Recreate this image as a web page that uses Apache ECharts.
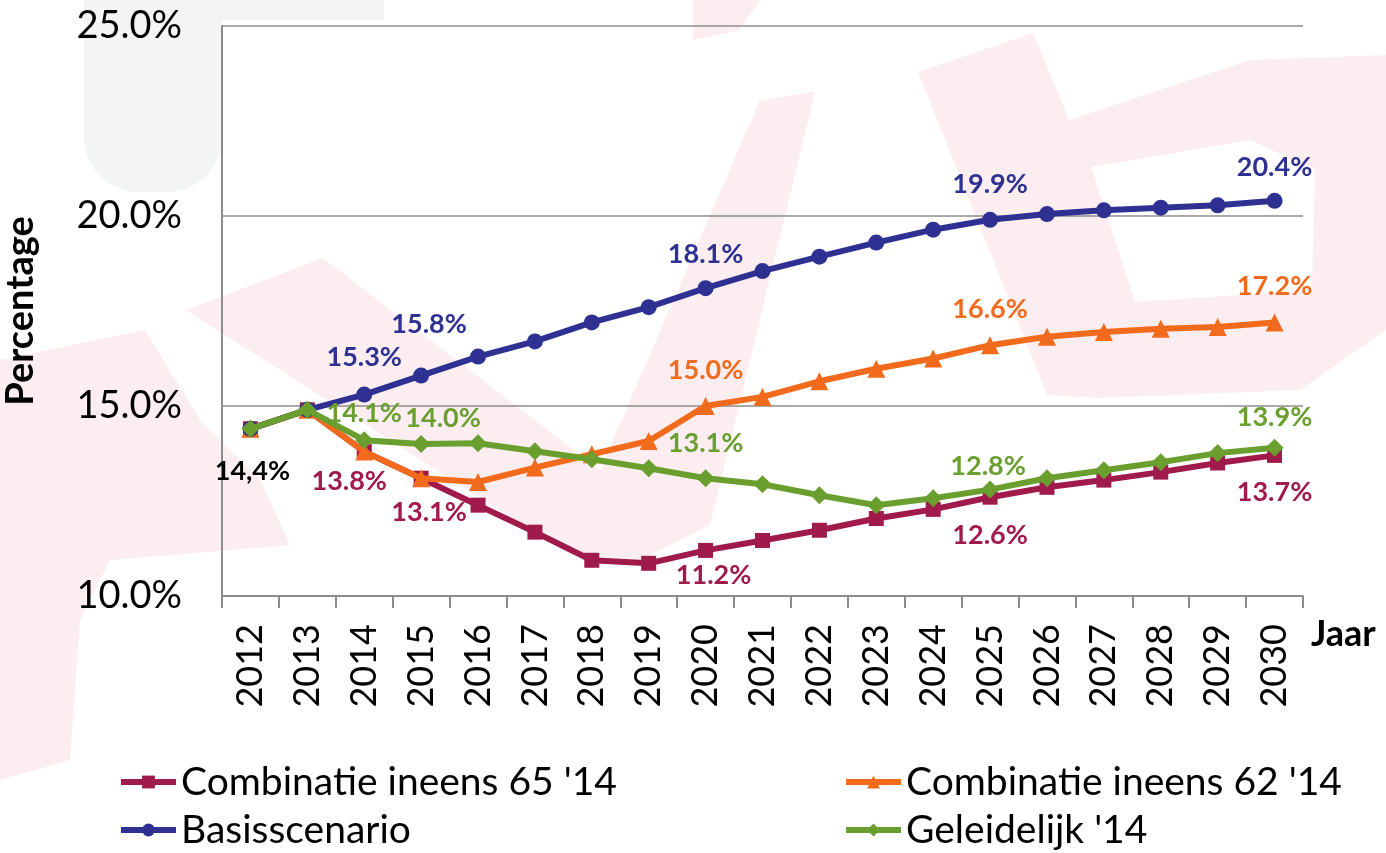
<!DOCTYPE html>
<html>
<head>
<meta charset="utf-8">
<script src="https://cdn.jsdelivr.net/npm/echarts@6/dist/echarts.min.js"></script>
<style>
  html, body { margin: 0; padding: 0; background: #fff; }
  #chart { width: 1386px; height: 853px; }
</style>
</head>
<body>
<div id="chart"></div>
<script>
// jaren op de x-as
const years = ['2012','2013','2014','2015','2016','2017','2018','2019','2020','2021',
  '2022','2023','2024','2025','2026','2027','2028','2029','2030'];

const comb65 = [14.4, 14.9, 13.8, 13.1, 12.39, 11.68, 10.94, 10.86, 11.2, 11.46,
  11.73, 12.04, 12.28, 12.6, 12.86, 13.05, 13.26, 13.5, 13.7];
const comb62 = [14.4, 14.9, 13.8, 13.1, 13.0, 13.38, 13.73, 14.08, 15.0, 15.24,
  15.65, 15.98, 16.25, 16.6, 16.82, 16.95, 17.03, 17.08, 17.2];
const basis = [14.4, 14.9, 15.3, 15.8, 16.3, 16.7, 17.2, 17.6, 18.1, 18.55,
  18.93, 19.3, 19.64, 19.9, 20.05, 20.15, 20.22, 20.28, 20.4];
const geleidelijk = [14.4, 14.9, 14.1, 14.0, 14.02, 13.81, 13.6, 13.36, 13.1, 12.94,
  12.65, 12.39, 12.57, 12.8, 13.1, 13.31, 13.52, 13.76, 13.9];

const names = ["Combinatie ineens 65 '14", "Combinatie ineens 62 '14", 'Basisscenario', "Geleidelijk '14"];
const colors = ['#A01A4C', '#F26A1B', '#2E3192', '#6A9F2F'];

// welke punten een label krijgen: index -> [dx, dy] t.o.v. het punt
const labelOffsets = [
  { 2: [-15, 30], 3: [8, 34], 8: [8, 25], 13: [0, 38], 18: [0, 37] },
  { 8: [0, -36], 13: [0, -36], 18: [0, -36] },
  { 2: [0, -37], 3: [8, -51], 8: [0, -34], 13: [0, -36], 18: [0, -34] },
  { 0: [2, 42], 2: [0, -27], 3: [22, -26], 8: [0, -35], 13: [-2, -23], 18: [0, -31] }
];

const FONT = 'Lato, "Open Sans", sans-serif';

function buildData (values, idx) {
  return values.map((v, i) => {
    const off = labelOffsets[idx][i];
    if (!off) return v;
    const isFirst = (idx === 3 && i === 0);
    return {
      value: v,
      label: {
        show: true,
        position: 'inside',
        offset: off,
        align: 'center',
        verticalAlign: 'middle',
        color: isFirst ? '#000' : colors[idx],
        fontFamily: FONT,
        fontWeight: 'bold',
        fontSize: 27,
        formatter: isFirst ? '14,4%' : (p) => p.value.toFixed(1) + '%'
      }
    };
  });
}

const symbols = ['rect', 'triangle', 'circle', 'diamond'];
const symbolSizes = [15, 18, 16, 18];

const seriesList = [comb65, comb62, basis, geleidelijk].map((vals, i) => ({
  name: names[i],
  type: 'line',
  data: buildData(vals, i),
  symbol: symbols[i],
  symbolSize: symbolSizes[i],
  lineStyle: { color: colors[i], width: 6 },
  itemStyle: { color: colors[i] },
  z: 2 + i,
  emphasis: { disabled: true },
  animation: false
}));

const pink = '#FBEDF0';
const green = '#F2F5F4';

let myChart = echarts.init(document.getElementById('chart'));

myChart.setOption({
  backgroundColor: '#fff',
  // vage watermerk-vormen op de achtergrond
  graphic: [
    { type: 'rect', z: -10, silent: true, shape: { x: 84, y: -10, width: 300, height: 30 }, style: { fill: green } },
    { type: 'rect', z: -10, silent: true, shape: { x: 84, y: -10, width: 138, height: 202, r: [0, 0, 55, 55] }, style: { fill: green } },
    { type: 'polygon', z: -10, silent: true, shape: { points: [[186,310],[323,258],[600,470],[760,100],[815,92],[710,525],[640,560],[570,555]] }, style: { fill: pink } },
    { type: 'polygon', z: -10, silent: true, shape: { points: [[918,72],[1033,33],[1069,120],[1250,60],[1386,55],[1386,330],[1300,390],[1100,398],[1047,395]] }, style: { fill: pink } },
    { type: 'polygon', z: -9, silent: true, shape: { points: [[1091,167],[1250,140],[1315,170],[1312,290],[1135,302]] }, style: { fill: '#fff' } },
    { type: 'polygon', z: -10, silent: true, shape: { points: [[0,360],[145,330],[200,420],[260,480],[290,545],[110,560],[80,620],[70,760],[0,780]] }, style: { fill: pink } },
    { type: 'polygon', z: -10, silent: true, shape: { points: [[693,0],[760,0],[740,30],[693,40]] }, style: { fill: pink } }
  ],
  grid: {
    left: 222,
    right: 83,
    top: 26,
    bottom: 257,
    outerBoundsMode: 'none'
  },
  legend: [0, 1, 2, 3].map((i) => ({
    data: [names[i]],
    left: i % 2 === 0 ? 118 : 843,
    top: i < 2 ? 762 : 810,
    padding: 0,
    itemWidth: 55,
    itemHeight: 16,
    itemGap: 0,
    selectedMode: false,
    lineStyle: { width: 6 },
    textStyle: { fontFamily: FONT, fontSize: 39, color: '#000', lineHeight: 40 }
  })),
  xAxis: {
    type: 'category',
    data: years,
    boundaryGap: true,
    name: 'Jaar',
    nameLocation: 'end',
    nameGap: 8,
    nameTextStyle: {
      fontFamily: FONT,
      fontWeight: 'bold',
      fontSize: 36,
      color: '#000',
      verticalAlign: 'top',
      padding: [20, 0, 0, 0]
    },
    axisLine: { lineStyle: { color: '#8c8c8c', width: 2 } },
    axisTick: { show: true, alignWithLabel: false, length: 12, lineStyle: { color: '#8c8c8c', width: 2 } },
    axisLabel: {
      rotate: 90,
      margin: 28,
      fontFamily: FONT,
      fontSize: 36,
      color: '#000'
    },
    splitLine: { show: false }
  },
  yAxis: {
    type: 'value',
    min: 10,
    max: 25,
    interval: 5,
    name: 'Percentage',
    nameLocation: 'middle',
    nameGap: 182,
    nameRotate: 90,
    nameTextStyle: { fontFamily: FONT, fontWeight: 'bold', fontSize: 38, color: '#000' },
    axisLine: { show: true, lineStyle: { color: '#8c8c8c', width: 2 } },
    axisTick: { show: false },
    axisLabel: {
      margin: 40,
      fontFamily: FONT,
      fontSize: 38,
      color: '#000',
      formatter: (v) => v.toFixed(1) + '%'
    },
    splitLine: { show: true, lineStyle: { color: '#8c8c8c', width: 1.5 } }
  },
  series: seriesList
});

window.addEventListener('resize', () => {
  myChart.resize();
});
</script>
</body>
</html>
